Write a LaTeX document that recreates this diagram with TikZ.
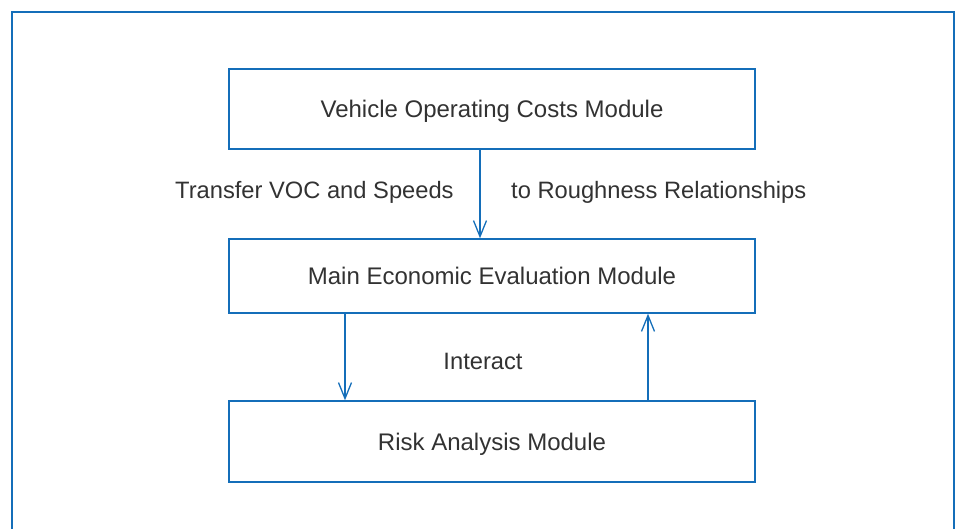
\documentclass[tikz,border=0pt]{standalone}
\usepackage{fontspec}
\setmainfont{Liberation Sans}
\usetikzlibrary{arrows.meta}
\definecolor{lineblue}{RGB}{20,110,185}
\definecolor{txtgray}{RGB}{50,50,50}
\begin{document}
\begin{tikzpicture}[x=1pt,y=-1pt,
  modbox/.style={draw=lineblue,line width=1.4pt,minimum width=526pt,inner sep=0pt,
    text depth=0pt,font=\fontsize{24}{28}\selectfont,text=txtgray},
  lbl/.style={font=\fontsize{23.7}{28}\selectfont,text=txtgray,inner sep=0pt},
  conn/.style={draw=lineblue,line width=1.3pt,-{Straight Barb[length=16pt,width=13pt,line width=1.3pt]}}]
\useasboundingbox (0,0) rectangle (958,529);
\draw[lineblue,line width=2pt] (12,540) -- (12,12) -- (954,12) -- (954,540);
\node[modbox,minimum height=80pt] (voc) at (492,109) {Vehicle Operating Costs Module};
\node[modbox,minimum height=74pt] (main) at (492,276) {Main Economic Evaluation Module};
\node[modbox,minimum height=81pt] (risk) at (492,441.5) {Risk Analysis Module};
\draw[conn] (voc.south -| 480,0) -- (main.north -| 480,0);
\draw[conn] (main.south -| 345,0) -- (risk.north -| 345,0);
\draw[conn] (risk.north -| 648,0) -- (main.south -| 648,0);
\node[lbl,anchor=west] (t1) at (175,192) {Transfer VOC and Speeds};
\node[lbl,anchor=west] (t2) at (511,192) {to Roughness Relationships};
\node[lbl] (t3) at (483,361) {Interact};
\end{tikzpicture}
\end{document}
